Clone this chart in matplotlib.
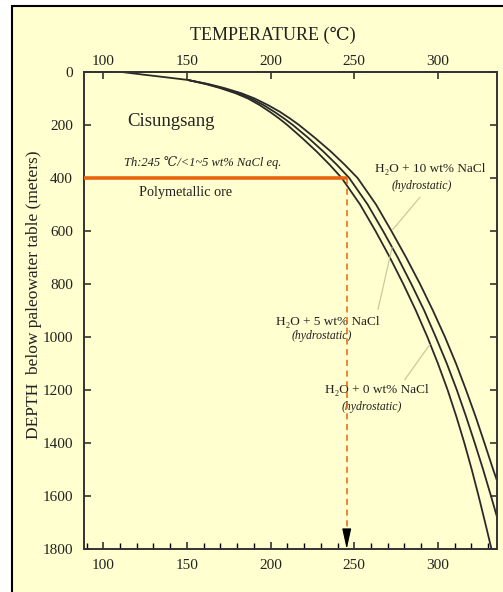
import matplotlib
matplotlib.use("Agg")
import matplotlib.pyplot as plt
from matplotlib.patches import Rectangle
from matplotlib.ticker import MultipleLocator

# ---- data ----
depth_0 = [0, 10, 20, 30, 45, 60, 80, 100, 125, 150, 175, 200, 250, 300, 350, 400,
           500, 600, 700, 800, 900, 1000, 1100, 1200, 1300, 1400, 1500, 1600, 1700, 1800]
temp_0 = [111, 124, 137.5, 150.5, 161, 169.5, 179, 186.5, 193.5, 199.5, 205, 210,
          219, 227.5, 235.3, 242.5, 253.5, 262.7, 271.3, 279.3, 286.8, 293.7, 300,
          305.8, 311, 315.8, 320.2, 324.3, 328.2, 332]

depth_5 = [30, 45, 60, 80, 100, 125, 150, 175, 200, 250, 300, 350, 400, 500, 600,
           700, 800, 900, 1000, 1100, 1200, 1300, 1400, 1500, 1600, 1690]
temp_5 = [150.5, 161.5, 170.5, 180.5, 188.3, 195.8, 202.2, 208, 213.3, 222.8, 231.5,
          239.6, 247, 258, 267.2, 276, 284.1, 291.8, 298.7, 305.3, 311.3, 316.8, 322,
          327, 331.7, 335.8]

depth_10 = [30, 45, 60, 80, 100, 125, 150, 175, 200, 250, 300, 350, 400, 500, 600,
            700, 800, 900, 1000, 1100, 1200, 1300, 1400, 1500, 1540]
temp_10 = [150.5, 162.5, 172, 182.5, 190.5, 198.5, 205.5, 211.5, 217, 226.8, 236,
           244.3, 252, 263, 272.2, 281, 289.3, 297, 304.2, 310.8, 316.8, 322.5, 327.8,
           333, 335.2]

th_temp = 245.5
ore_depth = 400

x_ticks = [100, 150, 200, 250, 300]
y_ticks = [0, 200, 400, 600, 800, 1000, 1200, 1400, 1600, 1800]

# ---- style ----
SERIF = ["Liberation Serif", "DejaVu Serif"]
plt.rcParams["font.family"] = SERIF
BG = "#FFFFCF"
ORANGE = "#E8650E"
INK = "#222222"

W, H = 503, 592
fig = plt.figure(figsize=(W / 100, H / 100), dpi=100, facecolor="white")

# outer framed panel
fig.patches.append(Rectangle((12 / W, -0.05), 1.2, 1 - 6 / H + 0.05,
                             transform=fig.transFigure, facecolor=BG,
                             edgecolor="black", linewidth=1.5, zorder=-5))

ax = fig.add_axes([84 / W, 1 - 549 / H, (497 - 84) / W, (549 - 72) / H])
ax.set_zorder(2)
ax.set_facecolor(BG)
ax.set_xlim(88.5, 335.3)
ax.set_ylim(1800, 0)

for s in ax.spines.values():
    s.set_color("#333333")
    s.set_linewidth(1.4)

ax.set_xticks(x_ticks)
ax.xaxis.set_minor_locator(MultipleLocator(10))
ax.set_yticks(y_ticks)
ax.tick_params(axis="x", which="major", direction="in", length=5, width=1.1,
               top=False, labeltop=False, labelsize=11, pad=7, colors=INK)
ax.tick_params(axis="x", which="minor", direction="in", length=4, width=1.0,
               top=False, bottom=True)
ax.tick_params(axis="y", which="major", direction="in", length=5, width=1.1,
               right=True, labelsize=11, pad=8, colors=INK)

sec = ax.secondary_xaxis("top")
sec.set_xticks(x_ticks)
sec.tick_params(axis="x", which="major", direction="in", length=5, width=1.1,
                labelsize=11, pad=3, colors=INK)
sec.spines["top"].set_color("#333333")
sec.spines["top"].set_linewidth(1.4)

# boiling point curves
for t, d in [(temp_0, depth_0), (temp_5, depth_5), (temp_10, depth_10)]:
    ax.plot(t, d, color="#2a2a2a", lw=1.3, solid_capstyle="butt",
            solid_joinstyle="round")

# ore level and projected temperature arrow
ax.plot([88.5, th_temp], [ore_depth, ore_depth], color=ORANGE, lw=2.6,
        solid_capstyle="butt", zorder=5)
ax.plot([th_temp, th_temp], [ore_depth, 1745], color=ORANGE, lw=1.1,
        dashes=(4, 3), zorder=4)
ax.annotate("", xy=(th_temp, 1800), xytext=(th_temp, 1740),
            arrowprops=dict(arrowstyle="-|>,head_length=0.9,head_width=0.2",
                            color="black", lw=0.8, mutation_scale=14,
                            shrinkA=0, shrinkB=0), zorder=6)

# text annotations
ax.text(140.5, 185, "Cisungsang", fontsize=13.5, color=INK, ha="center", va="center")
ax.text(159.7, 340, "Th:245 \u2103/<1~5 wt% NaCl eq.", fontsize=9, style="italic",
        color=INK, ha="center", va="center", family=SERIF + ["DejaVu Sans"])
ax.text(149.4, 454, "Polymetallic ore", fontsize=10.3, color=INK,
        ha="center", va="center")

lab_kw = dict(fontsize=9.5, color=INK, ha="center", va="center",
              family=SERIF + ["DejaVu Sans"])
hyd_kw = dict(fontsize=8.5, style="italic", color=INK, ha="center", va="center")

ax.text(295.3, 367, "H\u2082O + 10 wt% NaCl", **lab_kw)
ax.text(290.5, 431, "(hydrostatic)", **hyd_kw)
ax.text(233.9, 942, "H\u2082O + 5 wt% NaCl", **lab_kw)
ax.text(230.8, 998, "(hydrostatic)", **hyd_kw)
ax.text(263.2, 1199, "H\u2082O + 0 wt% NaCl", **lab_kw)
ax.text(260.2, 1263, "(hydrostatic)", **hyd_kw)

# leader lines
lead = dict(color="#c4c49a", lw=0.8)
ax.plot([289.2, 273.1], [473, 594], **lead)
ax.plot([264.2, 272.6], [896, 662], **lead)
ax.plot([280.2, 295.1], [1161, 1029], **lead)

fig.text(273 / W, 1 - 35 / H, "TEMPERATURE (\u2103)", fontsize=13, color=INK,
         ha="center", va="center", family=SERIF + ["DejaVu Sans"])
fig.text(34 / W, 1 - 295 / H, "DEPTH  below paleowater table (meters)",
         fontsize=12.5, color=INK, rotation=90, ha="center", va="center")

fig.savefig("out.png", dpi=100, facecolor="white")
